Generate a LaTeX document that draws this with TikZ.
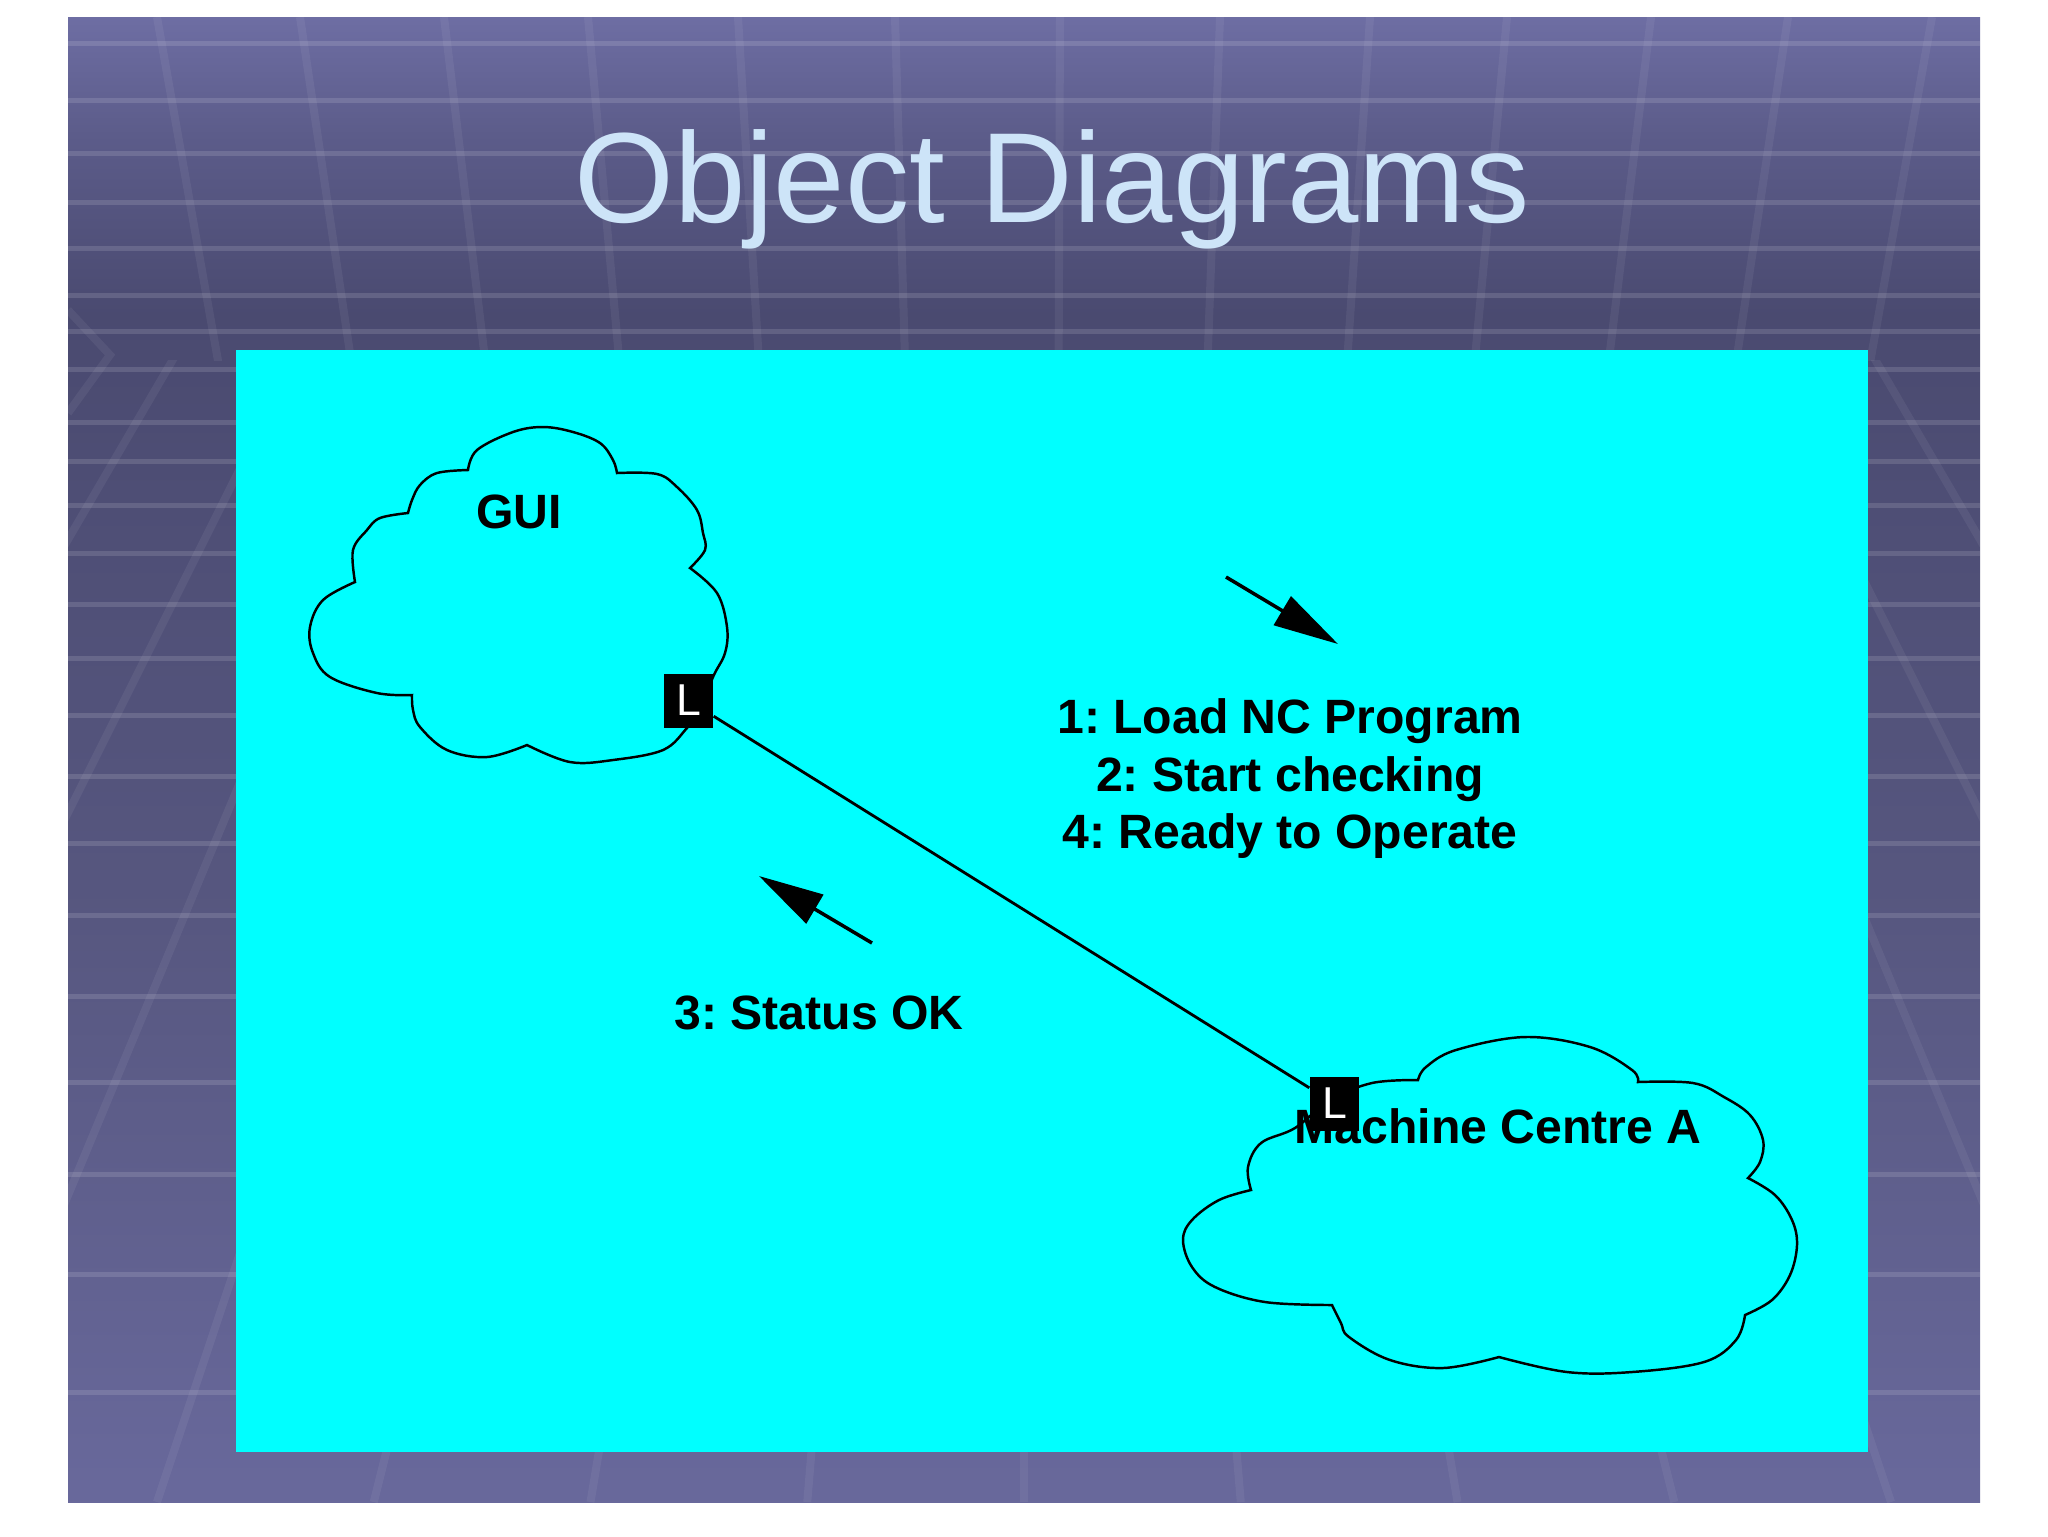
\documentclass[tikz,border=0pt]{standalone}
\usepackage{fontspec}
\setmainfont{Liberation Sans}
\usetikzlibrary{arrows.meta}
\frenchspacing

% Degradado del fondo (de abajo hacia arriba, zona visible 25bp-75bp)
\pgfdeclareverticalshading{fondodiapo}{100bp}{rgb(0bp)=(.41,.41,.61); rgb(25bp)=(.41,.41,.61); rgb(45bp)=(.34,.34,.50); rgb(65bp)=(.29,.29,.44); rgb(71bp)=(.36,.36,.54); rgb(75bp)=(.43,.43,.64); rgb(100bp)=(.43,.43,.64)}

\begin{document}
\begin{tikzpicture}[x=0.1mm, y=-0.1mm,
    nube/.style={draw=black, line width=0.7pt},
    enlace/.style={fill=black, text=white, minimum width=4.9mm, minimum height=5.4mm, inner sep=0pt, font=\fontsize{12.7}{14}\selectfont},
    etiqueta/.style={font=\bfseries\fontsize{13.7}{16.4}\selectfont, inner sep=0pt},
    mensaje/.style={-{Triangle[length=6.5mm, width=3.3mm]}, line width=1pt},
    barra/.style={white, opacity=0.13, line width=0.5mm},
    linea/.style={white, opacity=0.06, line width=0.8mm}]
    % Definir colores
    \definecolor{cian}{RGB}{0,255,255}
    \definecolor{titulo}{RGB}{205,228,248}

    \useasboundingbox (0,0) rectangle (2048,1536);
    \fill[white] (0,0) rectangle (2048,1536);

    % Fondo de la diapositiva
    \shade[shading=fondodiapo] (68,17) rectangle (1980,1502);
    \begin{scope}
        \clip (68,17) rectangle (1980,1502);
        % Barras horizontales
        \foreach \y in {43,100,153,202,248,295,331,369,422,461,505,553,604,658,715,776,843,915,996,1082,1174,1274,1392}
            \draw[barra] (68,\y) -- (1980,\y);
        % Lineas del techo
        \begin{scope}
            \clip (68,17) rectangle (1980,360);
            \foreach \x [evaluate=\x as \xb using \x+(1040-\x)*0.077] in {157,300,444,588,738,895,1060,1220,1370,1507,1651,1788,1932}
                \draw[linea] (\x,17) -- (\xb,400);
        \end{scope}
        % Lineas de las paredes
        \begin{scope}
            \clip (68,360) rectangle (1980,1502);
            \foreach \k in {-8,...,8}
                \draw[linea] (1024,-1100) -- ({1024+216.75*\k},1502);
        \end{scope}
        \draw[linea] (68,310) -- (110,355) -- (68,413);
    \end{scope}

    % Titulo
    \node[anchor=base, text=titulo, font=\fontsize{36.5}{44}\selectfont] (titulo) at (1052,222) {Object Diagrams};

    % Area del diagrama
    \fill[cian] (236,350) rectangle (1868,1452);

    % Nube GUI
    \draw[nube] plot[smooth, tension=0.6] coordinates {(468,470) (477,450) (513,432) (543,427) (573,432) (600,443) (613,460) (617,473)}
        -- plot[smooth, tension=0.6] coordinates {(617,473) (657,474) (677,487) (697,510) (703,533) (705,550) (690,568)}
        -- plot[smooth, tension=0.6] coordinates {(690,568) (717,593) (727,627) (725,653) (713,677) (700,712)}
        -- plot[smooth, tension=0.6] coordinates {(700,712) (687,728) (663,750) (613,760) (570,762) (527,745)}
        -- plot[smooth, tension=0.6] coordinates {(527,745) (487,757) (447,750) (420,727) (413,710) (412,695)}
        -- plot[smooth, tension=0.6] coordinates {(412,695) (377,693) (330,677) (313,653) (310,627) (323,600) (355,582)}
        -- plot[smooth, tension=0.6] coordinates {(355,582) (353,550) (367,530) (380,518) (408,513)}
        -- plot[smooth, tension=0.6] coordinates {(408,513) (412,500) (420,485) (437,473) (468,470)} -- cycle;

    % Nube Machine Centre A
    \draw[nube] plot[smooth, tension=0.6] coordinates {(1418,1080) (1426,1067) (1456,1050) (1525,1037) (1590,1047) (1632,1070) (1638,1082)}
        -- plot[smooth, tension=0.6] coordinates {(1638,1082) (1693,1083) (1724,1097) (1750,1115) (1763,1140) (1760,1162) (1748,1178)}
        -- plot[smooth, tension=0.6] coordinates {(1748,1178) (1775,1195) (1792,1220) (1797,1245) (1790,1275) (1772,1300) (1745,1315)}
        -- plot[smooth, tension=0.6] coordinates {(1745,1315) (1736,1340) (1704,1362) (1632,1372) (1567,1372) (1499,1357)}
        -- plot[smooth, tension=0.6] coordinates {(1499,1357) (1443,1368) (1390,1360) (1349,1337) (1341,1323) (1332,1305)}
        -- plot[smooth, tension=0.6] coordinates {(1332,1305) (1265,1302) (1215,1287) (1192,1267) (1183,1240) (1192,1220) (1219,1200) (1251,1190)}
        -- plot[smooth, tension=0.6] coordinates {(1251,1190) (1248,1167) (1261,1143) (1295,1128) (1330,1100) (1372,1083) (1418,1080)} -- cycle;

    % Nombres de los objetos
    \node[etiqueta, anchor=base] (gui) at (519,528) {GUI};
    \node[etiqueta, anchor=base] (maquina) at (1498,1143) {Machine Centre A};

    % Mensajes
    \node[etiqueta, align=center, anchor=north] (msgida) at (1290,698) {1: Load NC Program\\2: Start checking\\4: Ready to Operate};
    \node[etiqueta, anchor=base] (msgvuelta) at (819,1029) {3: Status OK};

    % Enlace entre objetos
    \node[enlace] (lgui) at (688.5,700.5) {L};
    \node[enlace] (lmaq) at (1334.5,1103.5) {L};
    \draw[line width=0.8pt] (lgui) -- (lmaq);

    % Flechas de los mensajes
    \coordinate (ida1) at (1226,577);
    \coordinate (ida2) at (1338,644);
    \draw[mensaje] (ida1) -- (ida2);
    \coordinate (vuelta1) at (872,943);
    \coordinate (vuelta2) at (759,876);
    \draw[mensaje] (vuelta1) -- (vuelta2);
\end{tikzpicture}
\end{document}
